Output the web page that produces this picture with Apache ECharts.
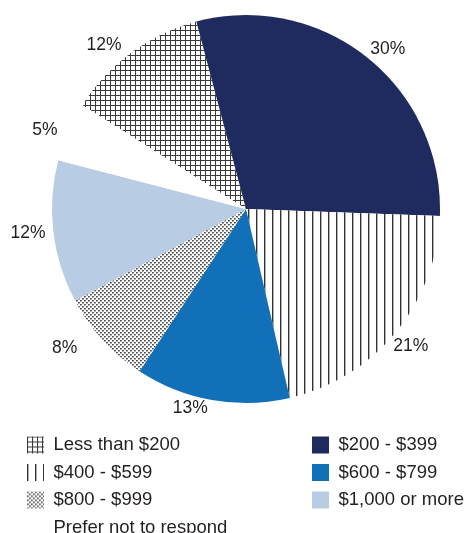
<!DOCTYPE html>
<html>
<head>
<meta charset="utf-8">
<script src="https://cdn.jsdelivr.net/npm/echarts@6/dist/echarts.min.js"></script>
<style>
html,body{margin:0;padding:0;background:#fff;}
#chart{width:467px;height:533px;}
</style>
</head>
<body>
<div id="chart"></div>
<script>
const categories = ['Less than $200', '$200 - $399', '$400 - $599', '$600 - $799', '$800 - $999', '$1,000 or more', 'Prefer not to respond'];
const values = [12, 30, 21, 13, 8, 12, 5];
const leftLegend = ['Less than $200', '$400 - $599', '$800 - $999', 'Prefer not to respond'];
const rightLegend = ['$200 - $399', '$600 - $799', '$1,000 or more'];
// per-slice label tuning (radial line length, horizontal gap)
const labelLen = [9.2, 11.1, 21.4, 8.2, 11.6, 9, 4];
const labelGap = [4.4, -3.7, -18.8, 2.7, 16.9, -1.1, 6.8];

function makePattern(w, h, draw) {
  const c = document.createElement('canvas');
  c.width = w; c.height = h;
  const ctx = c.getContext('2d');
  ctx.fillStyle = '#fff';
  ctx.fillRect(0, 0, w, h);
  draw(ctx);
  return { image: c, repeat: 'repeat' };
}
const gridPat = makePattern(5, 5, ctx => {
  ctx.fillStyle = '#3a3a3a';
  ctx.fillRect(0, 0, 5, 1);
  ctx.fillRect(0, 0, 1, 5);
});
const vlinePat = makePattern(8, 8, ctx => {
  ctx.fillStyle = '#333';
  ctx.fillRect(0, 0, 1.4, 8);
});
const dotPat = makePattern(4, 4, ctx => {
  ctx.fillStyle = '#4a4a4a';
  ctx.fillRect(0, 0, 1.8, 1.5);
  ctx.fillRect(2, 2, 1.8, 1.5);
});
const colors = [gridPat, '#1f2a5e', vlinePat, '#1270b8', dotPat, '#b8cce4', '#ffffff'];

const chart = echarts.init(document.getElementById('chart'), null, {renderer: 'canvas'});
const textColor = '#231f20';
const fontFamily = 'Liberation Sans, Arial, sans-serif';
const legendCommon = {
  orient: 'vertical',
  itemWidth: 17,
  itemHeight: 17,
  itemGap: 8.5,
  icon: 'rect',
  padding: 0,
  height: 160,
  selectedMode: false,
  textStyle: { fontFamily: fontFamily, fontSize: 18.5, color: textColor, padding: [0, 0, 0, 4.5] }
};
chart.setOption({
  animation: false,
  legend: [
    Object.assign({}, legendCommon, { data: leftLegend, left: 27, top: 435.5 }),
    Object.assign({}, legendCommon, { data: rightLegend, left: 312, top: 435.5 })
  ],
  series: [{
    type: 'pie',
    center: [246, 209],
    radius: 194,
    startAngle: 147.6,
    clockwise: true,
    avoidLabelOverlap: false,
    emphasis: { disabled: true },
    label: {
      show: true,
      position: 'outside',
      formatter: '{c}%',
      fontFamily: fontFamily,
      fontSize: 17.5,
      color: textColor
    },
    labelLine: { show: false, length2: 0 },
    data: categories.map((name, i) => ({
      name: name,
      value: values[i],
      itemStyle: { color: colors[i] },
      label: { distanceToLabelLine: labelGap[i] },
      labelLine: { show: false, length: labelLen[i], length2: 0 }
    }))
  }]
});
</script>
</body>
</html>
